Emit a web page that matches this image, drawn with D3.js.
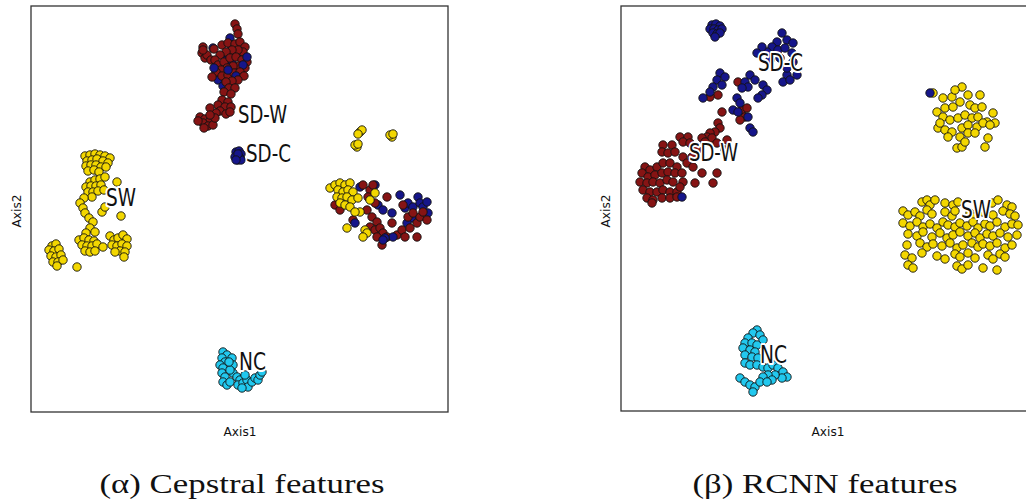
<!DOCTYPE html>
<html><head><meta charset="utf-8">
<script src="https://cdn.jsdelivr.net/npm/d3@7"></script>
<style>body{margin:0;background:#fff}svg{display:block}</style>
</head><body>
<svg id="c" width="1026" height="501"></svg>
<script>
// ---- DATA (t-SNE coordinates, arbitrary units) ----
const classes = ["SW", "SD-W", "SD-C", "NC"];
const classColors = {"SW":"#f3d700","SD-W":"#861414","SD-C":"#16168a","NC":"#22c8ee"};
const captions = ["(\u03b1) Cepstral features", "(\u03b2) RCNN features"];
const axisTitles = ["Axis1", "Axis2"];

// Panel (α) Cepstral features
const cepSW = [[-31,10.6],[-30,10.8],[-29,11],[-28,10.8],[-27,10.6],[-26,10.2],[-30.6,9.6],[-29.6,9.8],[-28.6,10],[-27.4,9.6],[-26.4,9.2],[-30.8,8.6],[-29.8,8.8],[-28.8,8.8],[-27.8,8.4],[-26.8,8.4],[-30.4,7.6],[-29.2,7.8],[-28.2,7.4],
[-30,5.4],[-29,5.8],[-28,6],[-27,6.4],[-30.8,4.4],[-29.8,4.6],[-28.8,4.6],[-27.8,4.8],[-30.4,3.4],[-29.4,3.4],[-28.4,3.6],[-27.2,3.8],[-29.6,2.4],
[-31.2,2.2],[-32,1.2],[-31.4,0.2],[-31,-0.8],[-30.2,-1.8],[-29.4,-2.6],[-30,-3.8],[-29,-4.6],[-30.8,-4.8],
[-24.6,5.4],[-23.8,-1.4],[-27.6,-0.6],[-27,0.4],
[-32.2,-6.2],[-31.2,-5.8],[-30.2,-6.2],[-29.2,-6.4],[-31.6,-7.2],[-30.6,-7.4],[-29.6,-7.4],[-28.6,-7],[-31,-8.4],[-30,-8.6],[-29,-8.4],[-27.4,-7.6],
[-26,-5.4],[-25.2,-6.2],[-24.4,-5.8],[-23.4,-5.2],[-22.6,-6],[-25.6,-7.2],[-24.6,-7.4],[-23.6,-7],[-22.6,-7.4],[-24,-8.4],[-23,-8.6],[-25,-8.6],[-23.2,-9.6],
[-37.6,-7.4],[-36.8,-7],[-38.2,-8.2],[-37.2,-8.4],[-36.2,-8],[-37.8,-9.4],[-36.8,-9.6],[-35.8,-9.2],[-37.4,-10.6],[-36.4,-10.6],[-35.4,-10.2],[-36.6,-11.4],[-32.6,-11.6],
[24,15.4],[24.4,15.8],[23.6,15],[30.4,14.4],[30,14.8],[30.6,15],[23.4,12.4],[23,12.8],[23.6,13],
[18,4.2],[19,4.8],[20,5.2],[21,4.8],[22,5.2],[19.6,3.8],[20.6,3.4],[21.6,3.8],[22.6,3.4],[19.4,2.4],[20.4,2.2],[21.4,2.4],[22.4,1.8],[23.6,2.2],[20,1.2],[21,0.8],[22,0.4],[24,-0.6],[23,-0.6],[21.4,-3.8],[25,-4.2],[25.4,-4.8],[24.6,-5.6],[26,1.8],[27,3.2]];
const cepSDW = [[-1,37],[-0.6,36],[-0.4,35],[-7.4,32.4],[-7.6,31.2],[-7,30.2],[-6.6,30.8],[-7.4,31.8],[-5.8,29.8],[-3.6,32.8],[-2.4,33.2],[-1,33],[0,33.4],[1,32.4],[0.6,31.4],[-0.4,31.8],[-1.6,31.8],[-2.8,31.4],[-4,30.8],[-5,29.8],[-4.4,28.8],[-3.2,29.4],[-2,30.2],[-0.8,30.4],[0.4,29.8],[1.4,29.4],[1,28.2],[-0.2,28.6],[-1.4,28.6],[-2.6,28.2],[-3.8,27.8],[-4.8,27.4],[-3.6,26.6],[-2.4,26.8],[-1.2,27.2],[0,27.4],[0.8,26.6],[-0.4,25.8],[-1.6,25.6],[-2.8,25.4],[-2.2,24.2],[-1,24.2],[-3.2,23.4],[-1.8,23],[-5.6,26.4],[-5.2,32],
[-3.6,21.8],[-2.4,21.4],[-4.4,20.8],[-3,20.4],[-1.8,20.4],[-4,19.6],[-2.8,19],[-4.8,19.2],[-2,19.4],[-6,20.2],[-8,18.4],[-7,18],[-6,17.6],[-7.4,17.2],[-6.4,16.6],[-5.4,16.8],[-8.4,17.6],[-5,18.2],[-7.2,16.2],[-6,18.8],
[19,0.8],[20,-0.2],[22.6,-2.2],[24.6,4.8],[26,3.8],[26.6,4.8],[25.6,2.4],[27,1.2],[25.4,-0.2],[26.4,-1.6],[27.4,-2.6],[26,-3.6],[27,-4.2],[28,-3.8],[28.6,-4.8],[29.4,-5.6],[28.4,-7.2],[27.4,-5.6],[29.4,2.4],[30.4,-2.8],[31.4,-5.2],[32.4,-4.2],[32.6,0.8],[33.6,-1.6],[34,-3.8],[35.4,-2.8],[36,-1.6],[36.6,-0.6],[37.4,-2.2],[35.4,-5.6],[34.6,-0.8],[33,-5.6]];
const cepSDC = [[-5.4,32.2],[-2,34.2],[-1.8,32.8],[-2.6,30.8],[-1.4,31.2],[-0.4,30.8],[-2.8,29.8],[-3.6,28.6],[-1.6,29.2],[-0.8,28.2],[-4,27.2],[-3,26.2],[-2,26.4],[-4.4,25.8],[0.6,28.8],[1.4,30.4],[-3.4,24.6],[-5.2,28.2],[-0.8,26.6],[-2.4,27.8],
[-0.8,11.4],[-0.2,11.6],[0.2,11],[-0.6,10.6],[0,10.2],[-0.4,9.8],[-1,10.4],[0.2,9.8],[-0.4,11],[-0.8,9.8],
[24,4.4],[27,4.8],[27.6,0.8],[28.6,-0.2],[30.4,-0.8],[32,2.8],[33,0.2],[33.6,1.2],[34.6,0.4],[35.6,2.4],[36,1.2],[36.6,0.4],[37.6,-0.8],[34.4,-1.8],[33.4,-2.8],[30.6,-5.6],[29,-5.8],[28.6,-6.2],[23,-2.8],[37.4,1.4]];
const cepNC = [[-3.4,-28.6],[-2.6,-29.2],[-3.6,-29.8],[-3,-30.6],[-4,-31.2],[-3.4,-31.8],[-3.6,-32.8],[-3,-33.6],[-3.4,-34.6],[-2.6,-35.2],[-2,-34.6],[-1.6,-29.8],[-1.4,-31.2],[-1.4,-32.8],[-0.6,-33.6],[0,-34.2],[-0.4,-35.2],[0.6,-34.8],[1.4,-34.2],[1.6,-35.6],[2.4,-34.6],[3,-33.8],[3.6,-34.2],[4,-33.2],[4.4,-32.6],[1,-33.2],[0.4,-35.8],[-2,-32.2],[-2.2,-30.6]];
const cepLabels = [["SD-W",-0.4,18.8],["SD-C",1.2,11],["SW",-26.8,2.2],["NC",-0.2,-30.6]];

// Panel (β) RCNN features
const rcnnSW = [[20.6,23.2],[22.6,22.2],[24.4,22.4],[26.4,24.4],[27.6,22.8],[30,22.8],[25,23.8],[21.4,19.4],[23,20.2],[24.6,20.4],[26,21.4],[28,20.8],[29,20.2],[30.4,20.4],[32.6,19.2],[22.6,18.4],[24,17.8],[25.6,18.2],[27,18.8],[28.4,18.2],[29.6,18.4],[31.4,17.4],[33,17.2],[21.6,16.2],[23,15.8],[24.4,15.4],[26.4,16.2],[27.6,16.8],[29.4,16.4],[30.6,17.2],[32,16.8],[23.6,14.4],[26,14.4],[27.6,15.2],[29,15.2],[25.4,12.2],[26.4,12.4],[31,12.4],[31.6,14.2],[22,17.2],[27,13.4],
[18.4,1.4],[19.4,1.8],[20,0.8],[21,1.8],[23,1.2],[24.6,0.8],[25.6,1.4],[32.4,1.2],[33.6,1.8],[35.4,0.8],[36.4,0.4],
[14.6,-0.4],[15.6,-1.2],[17,-0.6],[18,-1.4],[19.4,-0.2],[20.4,-1],[23,-0.6],[24.4,-1.4],[25,-0.4],[28,-0.8],[29,-1.6],[30.6,-0.6],[32.6,-1.2],[34.6,-0.4],[36,-1],[37,-1.4],
[14.6,-2.8],[16,-3.4],[17.4,-2.6],[18.6,-3.6],[20,-3],[21.4,-3.8],[22.6,-2.6],[23.6,-3.2],[25,-3.6],[26,-2.8],[27.4,-3.4],[28.6,-2.6],[29.6,-3.8],[31,-3],[32,-3.4],[33.4,-2.6],[35,-3.6],[36.4,-3],[37.6,-3.2],
[15.6,-5],[17.4,-5.4],[18.6,-4.6],[20.4,-5.6],[22,-4.8],[23.4,-5.8],[24.6,-5.2],[26,-4.6],[27.6,-5.4],[29,-4.8],[30,-5.8],[31.4,-5],[32.6,-5.4],[34,-4.8],[35.6,-5.6],[37.4,-5.2],
[15.4,-7.2],[18,-6.8],[19.4,-7.6],[20.6,-7],[22.4,-7.4],[24,-6.8],[25.4,-7.8],[26.6,-7.2],[28.4,-6.8],[29.6,-7.6],[30.6,-7],[32,-7.4],[33.4,-6.8],[35,-7.8],[36.4,-7.2],
[15,-9.2],[16.4,-9.8],[18.4,-8.8],[21.4,-9.4],[23,-10],[25,-9],[26,-9.6],[27.6,-8.8],[29,-9.8],[31.6,-9.2],[32.6,-10],[34,-9],[35,-9.6],
[15.6,-11.2],[16.6,-11.8],[25.4,-11.4],[26.4,-12],[27.6,-11.2],[30.6,-11.8],[33.4,-12.2]];
const rcnnSDW = [[-18.4,25.4],[-22.4,22.8],[-24,22.4],[-17.6,19.8],[-17,18.4],[-16.6,20.2],[-18,17.8],[-21.6,19.4],
[-22.4,17.2],[-22,16.2],[-23,15.4],[-24,15.2],[-24.6,14.4],[-25.6,14.2],[-23.6,14.2],[-25,13.4],[-22.6,13.2],[-20.6,13.8],[-21,11.8],[-30,14.4],[-28.4,14.4],[-29.4,13.4],[-28,13.2],[-33.4,12.8],[-31.6,12.8],[-33.6,11.4],[-32.4,11.2],[-31,11.4],[-29.4,10.4],[-27.6,10.4],[-26.6,11.8],[-28.6,9.2],[-27.4,8.4],[-25.6,7.2],[-22.6,7.2],[-23.4,5.2],[-27,5.2],
[-37,8.4],[-36,7.8],[-34.6,8.4],[-33.4,9.2],[-32,9.2],[-30.6,8.4],[-37.6,7.2],[-36.4,6.4],[-35,6.8],[-33.6,7.2],[-32.4,7.4],[-31,7.2],[-29.6,7.2],[-38,5.4],[-36.6,5.2],[-35.4,5.4],[-34,5.2],[-32.6,5.8],[-31.4,5.4],[-29.4,5.4],[-37.4,3.8],[-36,3.4],[-34.6,3.4],[-33.4,3.8],[-32,3.4],[-30.6,3.4],[-36.6,2.2],[-35.4,1.8],[-33.6,2.2],[-32,2.2],[-30.6,2.4],[-35.6,1.2],[-30,4.4]];
const rcnnSDC = [[-23.6,36.8],[-22.8,37],[-22,36.6],[-24,36],[-23.2,36],[-22.4,35.8],[-21.6,36],[-23.4,35.2],[-22.6,35],[-22,35.2],[-23,34.4],
[-9.6,35.2],[-8.6,33.8],[-7.4,33.2],[-10.6,33.4],[-11.6,32.4],[-10.4,31.8],[-9,32.2],[-7.6,31.2],[-12.6,31.4],[-13.6,32.4],[-14.6,31.2],[-8.6,26.8],[-9.4,25.4],[-8,25.8],[-6.6,26.8],[-8.6,28.2],[-10,30.2],[-7.4,29.4],[-12,29.8],
[-22,27.2],[-21,26.4],[-22.6,25.8],[-23.4,24.4],[-21.6,24.8],[-24,23.4],[-25.4,22.2],[-16,26.8],[-15,25.8],[-17,25.4],[-16.4,24.4],[-17.6,24.2],[-13.4,24.8],[-12.6,23.8],[-13.6,22.8],[-14.4,22.2],[-18.6,22.2],[-18,21.2],[-19.4,19.8],[-18.4,19.4],[-16.4,18.4],[-16,16.2],[-15.4,15.4],[-29.6,2.4],[20,23.2]];
const rcnnNC = [[-14.6,-24.2],[-15.4,-24.8],[-14,-25.2],[-16.4,-25.8],[-13.4,-26.2],[-17,-26.8],[-15.6,-26.8],[-14.6,-27.2],[-17.4,-27.8],[-16,-28.2],[-15,-28.6],[-17,-29.2],[-15.6,-29.6],[-14.4,-29.8],[-17,-30.8],[-16,-31.2],[-14.6,-31.2],[-13.4,-31.6],[-12.4,-31.8],[-11.4,-31.2],[-10.4,-31.8],[-9.4,-32.6],[-8.6,-33.6],[-9.6,-33.8],[-11,-33.2],[-12.4,-33.2],[-13.4,-33.6],[-11.6,-34.2],[-18,-33.8],[-17,-34.6],[-16,-35.2],[-15,-35.6],[-15.4,-36.6],[-14,-34.6],[-12.6,-34.6]];
const rcnnLabels = [["SD-C",-14.4,29.2],["SD-W",-28.2,11.2],["SW",26.2,-0.2],["NC",-14,-29.2]];

// ---- LAYOUT ----
const panels = [
  {series:{"SW":cepSW,"SD-W":cepSDW,"SD-C":cepSDC,"NC":cepNC}, labels:cepLabels, caption:captions[0],
   x0:31,x1:448,y0:6,y1:412, xdom:[-41.8,41.6], ydom:[-40.6,40.6], capX:242, ax1X:240, ax2X:17, capW:285},
  {series:{"SW":rcnnSW,"SD-W":rcnnSDW,"SD-C":rcnnSDC,"NC":rcnnNC}, labels:rcnnLabels, caption:captions[1],
   x0:621,x1:1036,y0:6,y1:411, xdom:[-41.8,41.2], ydom:[-40.4,40.6], capX:825, ax1X:828, ax2X:606, capW:265}
];
const labelWidths = {"SD-W":49,"SD-C":45,"SW":30,"NC":27};

const svg = d3.select("#c");
panels.forEach((p)=>{
  const x = d3.scaleLinear().domain(p.xdom).range([p.x0,p.x1]);
  const y = d3.scaleLinear().domain(p.ydom).range([p.y1,p.y0]);
  const g = svg.append("g");
  g.append("rect").attr("x",p.x0).attr("y",p.y0).attr("width",p.x1-p.x0).attr("height",p.y1-p.y0)
    .attr("fill","none").attr("stroke","#333").attr("stroke-width",1.3);
  // interleave the classes proportionally (one mixed scatter)
  const pts = [];
  classes.forEach(c=>{ const s=p.series[c]; s.forEach((v,i)=>pts.push({c, v, k:(i+0.5)/s.length})); });
  pts.sort((a,b)=>a.k-b.k);
  g.append("g").selectAll("circle").data(pts).join("circle")
    .attr("cx",d=>x(d.v[0])).attr("cy",d=>y(d.v[1])).attr("r",4.2)
    .attr("fill",d=>classColors[d.c]).attr("stroke","#111").attr("stroke-width",0.9);
  p.labels.forEach(l=>{
    g.append("text").attr("x",x(l[1])).attr("y",y(l[2]))
      .attr("dominant-baseline","central")
      .attr("font-family","DejaVu Sans").attr("font-size",24)
      .attr("textLength",labelWidths[l[0]]).attr("lengthAdjust","spacingAndGlyphs")
      .attr("fill","#111").attr("stroke","#fff").attr("stroke-width",4).attr("stroke-linejoin","round")
      .attr("paint-order","stroke").text(l[0]);
  });
  svg.append("text").attr("x",p.ax1X).attr("y",436).attr("text-anchor","middle")
    .attr("font-family","DejaVu Sans").attr("font-size",13)
    .attr("textLength",33).attr("lengthAdjust","spacingAndGlyphs").attr("fill","#111").text(axisTitles[0]);
  svg.append("text").attr("transform",`translate(${p.ax2X+4},211) rotate(-90)`).attr("text-anchor","middle")
    .attr("font-family","DejaVu Sans").attr("font-size",13)
    .attr("textLength",33).attr("lengthAdjust","spacingAndGlyphs").attr("fill","#111").text(axisTitles[1]);
  svg.append("text").attr("x",p.capX).attr("y",493).attr("text-anchor","middle")
    .attr("font-family","Liberation Serif").attr("font-size",28)
    .attr("textLength",p.capW).attr("lengthAdjust","spacingAndGlyphs").attr("fill","#111").text(p.caption);
});
</script>
</body></html>
